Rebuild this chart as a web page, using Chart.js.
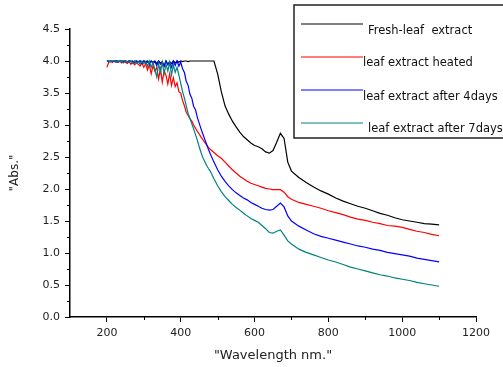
<!DOCTYPE html>
<html>
<head>
<meta charset="utf-8">
<script src="https://cdn.jsdelivr.net/npm/chart.js@4.4.0/dist/chart.umd.min.js"></script>
<style>
  html, body { margin: 0; padding: 0; background: #fff; }
  #wrap { width: 503px; height: 367px; }
</style>
</head>
<body>
<div id="wrap"><canvas id="chart" width="503" height="367"></canvas></div>
<script>
// Wavelength (nm) samples shared by all four spectra
const wavelengths = [
  200, 205, 210, 215, 220, 225, 230, 235, 240, 245,
  250, 255, 260, 265, 270, 275, 280, 285, 290, 295,
  300, 305, 310, 315, 320, 325, 330, 335, 340, 345,
  350, 355, 360, 365, 370, 375, 380, 385, 390, 395,
  400, 405, 410, 415, 420, 425, 430, 435, 440, 445,
  450, 455, 460, 465, 470, 475, 480,
  490, 500, 510, 520, 530, 540, 550, 560, 570, 580,
  590, 600, 610, 620, 630, 640, 650, 660, 670, 680,
  690, 700,
  720, 740, 760, 780, 800, 820, 840, 860, 880, 900,
  920, 940, 960, 980, 1000, 1020, 1040, 1060, 1080, 1100
];

const freshLeaf = [
  4.00, 4.00, 4.00, 3.99, 4.00, 4.00, 4.00, 3.99, 4.00, 4.00,
  4.00, 3.99, 4.00, 4.00, 3.98, 4.00, 4.00, 3.99, 4.00, 3.98,
  4.00, 3.99, 4.00, 3.97, 4.00, 3.98, 4.00, 3.96, 4.00, 3.97,
  3.99, 3.92, 4.00, 3.95, 3.99, 3.96, 4.00, 3.97, 4.00, 3.98,
  4.00, 3.99, 4.00, 4.00, 3.99, 4.00, 4.00, 4.00, 4.00, 4.00,
  4.00, 4.00, 4.00, 4.00, 4.00, 4.00, 4.00,
  4.00, 3.80, 3.52, 3.30, 3.17, 3.06, 2.97, 2.89, 2.82, 2.77,
  2.72, 2.68, 2.66, 2.63, 2.58, 2.56, 2.60, 2.73, 2.87, 2.79,
  2.42, 2.28,
  2.18, 2.10, 2.03, 1.97, 1.92, 1.86, 1.81, 1.77, 1.73, 1.70,
  1.66, 1.62, 1.59, 1.55, 1.52, 1.50, 1.48, 1.46, 1.45, 1.44
];

const heated = [
  3.90, 3.98, 3.99, 3.98, 4.00, 3.98, 3.99, 4.00, 3.97, 3.99,
  3.98, 3.96, 3.99, 3.95, 3.98, 3.94, 3.97, 3.95, 3.92, 3.97,
  3.90, 3.96, 3.86, 3.94, 3.80, 3.93, 3.84, 3.90, 3.72, 3.88,
  3.67, 3.85, 3.78, 3.64, 3.80, 3.62, 3.74, 3.60, 3.66, 3.52,
  3.50, 3.38, 3.30, 3.20, 3.15, 3.10, 3.06, 3.00, 2.95, 2.90,
  2.86, 2.81, 2.77, 2.73, 2.69, 2.65, 2.62,
  2.57, 2.52, 2.48, 2.42, 2.36, 2.30, 2.25, 2.20, 2.16, 2.12,
  2.09, 2.07, 2.05, 2.03, 2.01, 2.00, 1.99, 1.99, 1.99, 1.95,
  1.88, 1.84,
  1.79, 1.76, 1.73, 1.70, 1.66, 1.63, 1.60, 1.56, 1.53, 1.51,
  1.48, 1.46, 1.43, 1.42, 1.40, 1.37, 1.34, 1.32, 1.29, 1.27
];

const after4days = [
  4.00, 3.99, 4.00, 4.00, 3.99, 4.00, 3.98, 4.00, 4.00, 3.99,
  4.00, 3.98, 4.00, 3.99, 4.00, 3.97, 4.00, 3.98, 4.00, 3.96,
  4.00, 3.97, 3.99, 3.95, 4.00, 3.96, 3.99, 3.93, 4.00, 3.95,
  3.98, 3.92, 4.00, 3.94, 3.98, 3.90, 4.00, 3.93, 4.00, 3.92,
  3.98, 3.88, 3.82, 3.68, 3.62, 3.48, 3.42, 3.29, 3.24, 3.12,
  3.03, 2.94, 2.86, 2.78, 2.70, 2.62, 2.55,
  2.42, 2.30, 2.20, 2.12, 2.05, 1.99, 1.94, 1.90, 1.86, 1.83,
  1.79, 1.76, 1.73, 1.70, 1.68, 1.67, 1.68, 1.73, 1.78, 1.72,
  1.58, 1.50,
  1.42, 1.36, 1.30, 1.26, 1.23, 1.20, 1.17, 1.14, 1.11, 1.09,
  1.06, 1.04, 1.01, 0.99, 0.97, 0.95, 0.92, 0.90, 0.88, 0.86
];

const after7days = [
  4.00, 4.00, 3.99, 4.00, 4.00, 3.98, 4.00, 3.99, 4.00, 3.97,
  4.00, 3.99, 3.98, 4.00, 3.96, 4.00, 3.97, 3.99, 3.95, 4.00,
  3.96, 3.99, 3.92, 4.00, 3.90, 3.98, 3.86, 3.75, 3.96, 3.82,
  3.98, 3.80, 3.95, 3.84, 3.98, 3.78, 3.94, 3.82, 3.90, 3.78,
  3.65, 3.52, 3.42, 3.30, 3.18, 3.10, 3.02, 2.94, 2.85, 2.76,
  2.66, 2.57, 2.49, 2.43, 2.37, 2.32, 2.28,
  2.16, 2.05, 1.96, 1.88, 1.82, 1.76, 1.71, 1.67, 1.62, 1.58,
  1.54, 1.51, 1.48, 1.43, 1.38, 1.32, 1.31, 1.34, 1.36, 1.28,
  1.19, 1.14,
  1.06, 1.01, 0.97, 0.93, 0.89, 0.86, 0.82, 0.78, 0.75, 0.72,
  0.69, 0.66, 0.64, 0.61, 0.59, 0.57, 0.54, 0.52, 0.50, 0.48
];

const seriesNames = ['Fresh-leaf  extract', 'leaf extract heated', 'leaf extract after 4days', 'leaf extract after 7days'];
const seriesColors = ['#000000', '#ff0000', '#0000ff', '#008080'];
const seriesValues = [freshLeaf, heated, after4days, after7days];

const xTicks = [200, 400, 600, 800, 1000, 1200];
const xMinorTicks = [300, 500, 700, 900, 1100];
const yTicks = [0, 0.5, 1, 1.5, 2, 2.5, 3, 3.5, 4, 4.5];
const yMinorTicks = [0.25, 0.75, 1.25, 1.75, 2.25, 2.75, 3.25, 3.75, 4.25];

const FONT = '"DejaVu Sans", "Liberation Sans", Arial, sans-serif';

// short minor tick marks, placed through the scales
const minorTicks = {
    id: 'minorTicks',
    afterDraw(chart) {
        const { ctx, scales: { x, y } } = chart;
        ctx.save();
        ctx.strokeStyle = '#000';
        ctx.lineWidth = 1;
        ctx.beginPath();
        xMinorTicks.forEach(v => {
            const px = Math.round(x.getPixelForValue(v)) + 0.5;
            ctx.moveTo(px, x.top);
            ctx.lineTo(px, x.top + 3);
        });
        yMinorTicks.forEach(v => {
            const py = Math.round(y.getPixelForValue(v)) + 0.5;
            ctx.moveTo(y.right, py);
            ctx.lineTo(y.right - 3, py);
        });
        ctx.stroke();
        ctx.restore();
    }
};

// boxed legend in the top right corner, like the original
const boxLegend = {
    id: 'boxLegend',
    afterDraw(chart) {
        const ctx = chart.ctx;
        ctx.save();
        ctx.fillStyle = '#fff';
        ctx.fillRect(294, 5, 212, 133);
        ctx.strokeStyle = '#222';
        ctx.lineWidth = 1.5;
        ctx.strokeRect(294, 5, 212, 133);
        const rows = [
            { ly: 24, tx: 368, ty: 31 },
            { ly: 57, tx: 363, ty: 63 },
            { ly: 90, tx: 363, ty: 97 },
            { ly: 123, tx: 368, ty: 129 }
        ];
        ctx.font = '11.5px ' + FONT;
        ctx.textBaseline = 'middle';
        rows.forEach((r, i) => {
            ctx.strokeStyle = seriesColors[i];
            ctx.lineWidth = 1.2;
            ctx.beginPath();
            ctx.moveTo(301, r.ly);
            ctx.lineTo(363, r.ly);
            ctx.stroke();
            ctx.fillStyle = '#111';
            ctx.fillText(seriesNames[i], r.tx, r.ty);
        });
        ctx.restore();
    }
};

const datasets = seriesValues.map((vals, i) => ({
    label: seriesNames[i],
    data: wavelengths.map((w, j) => ({ x: w, y: vals[j] })),
    borderColor: seriesColors[i],
    borderWidth: 1.2,
    pointRadius: 0,
    tension: 0,
    fill: false,
    order: 3 - i
}));

new Chart(document.getElementById('chart'), {
    type: 'line',
    data: { datasets: datasets },
    options: {
        responsive: false,
        animation: false,
        layout: { padding: { top: 29, right: 27, left: 0, bottom: 0 } },
        plugins: {
            legend: { display: false },
            tooltip: { enabled: false }
        },
        scales: {
            x: {
                type: 'linear',
                min: 100,
                max: 1200,
                afterBuildTicks: s => { s.ticks = xTicks.map(v => ({ value: v })); },
                afterFit: s => { s.height = 50; },
                border: { color: '#000', width: 1.5 },
                grid: { drawOnChartArea: false, tickLength: 5, tickColor: '#000', tickWidth: 1 },
                ticks: {
                    color: '#222',
                    font: { family: FONT, size: 11 },
                    padding: 5,
                    maxRotation: 0,
                    callback: v => String(v)
                },
                title: {
                    display: true,
                    text: '"Wavelength nm."',
                    color: '#222',
                    font: { family: FONT, size: 13 },
                    padding: { top: 0, bottom: 4 }
                }
            },
            y: {
                min: 0,
                max: 4.5,
                afterBuildTicks: s => { s.ticks = yTicks.map(v => ({ value: v })); },
                afterFit: s => { s.width = 70; },
                border: { color: '#000', width: 1.5 },
                grid: { drawOnChartArea: false, tickLength: 5, tickColor: '#000', tickWidth: 1 },
                ticks: {
                    color: '#222',
                    font: { family: FONT, size: 11 },
                    padding: 5,
                    callback: v => v.toFixed(1)
                },
                title: {
                    display: true,
                    text: '"Abs."',
                    color: '#222',
                    font: { family: FONT, size: 12 },
                    padding: { top: 8, bottom: 0 }
                }
            }
        }
    },
    plugins: [minorTicks, boxLegend]
});
</script>
</body>
</html>
